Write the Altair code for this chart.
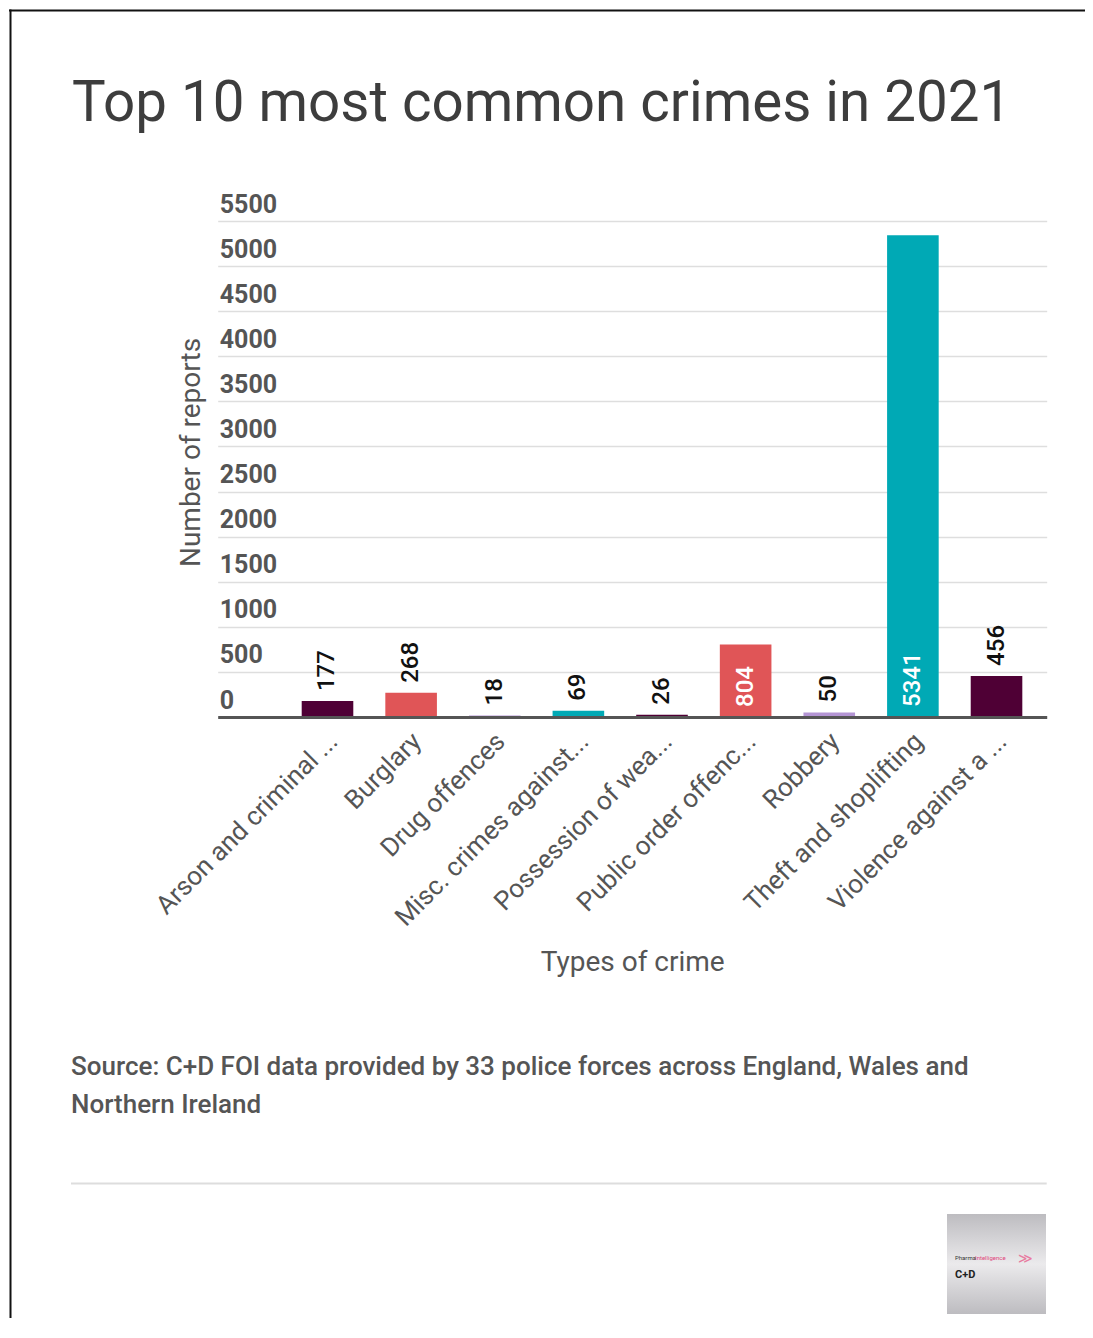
import altair as alt
import pandas as pd

# ---------------- data ----------------
crimes = [
    "Arson and criminal ...",
    "Burglary",
    "Drug offences",
    "Misc. crimes against...",
    "Possession of wea...",
    "Public order offenc...",
    "Robbery",
    "Theft and shoplifting",
    "Violence against a ...",
]
reports = [177, 268, 18, 69, 26, 804, 50, 5341, 456]
bar_colors = ["#4f0035", "#e05557", "#b495d4", "#00a9b5",
              "#4f0035", "#e05557", "#b495d4", "#00a9b5", "#4f0035"]
y_ticks = [0, 500, 1000, 1500, 2000, 2500, 3000, 3500, 4000, 4500, 5000, 5500]
title_text = "Top 10 most common crimes in 2021"
source_lines = ["Source: C+D FOI data provided by 33 police forces across England, Wales and",
                "Northern Ireland"]

df = pd.DataFrame({"crime": crimes, "reports": reports})

# ---------------- layout ----------------
W, H = 829, 496          # plot area
L0, T0 = 217.7, 221      # page position of plot origin
PAGE_M = 8


def px(x):
    return x - L0


def py(y):
    return y - T0


FONT = "Roboto"
GREY = "#555555"

x_enc = alt.X(
    "crime:N", sort=None,
    scale=alt.Scale(domain=crimes, paddingInner=0.383, paddingOuter=0.648, align=0.775),
    axis=alt.Axis(
        title="Types of crime", labelAngle=315, labelAlign="right", labelBaseline="middle",
        labelPadding=20, labelOffset=6, labelFont=FONT, labelFontSize=26, labelColor=GREY,
        labelLimit=500, ticks=False, tickSize=0, domainColor=GREY, domainWidth=3,
        titleFont=FONT, titleFontSize=28, titleFontWeight="normal", titleColor=GREY,
        titleX=W / 2, titleY=253, titleAlign="center", titleBaseline="alphabetic", zindex=1,
    ),
)
y_scale = alt.Scale(domain=[0, 5500], nice=False)
y_axis = alt.Axis(
    values=y_ticks, format="d", title="Number of reports", grid=True, gridColor="#dedede",
    gridWidth=1.5, domain=False, ticks=False, tickSize=0, labelAlign="left",
    labelBaseline="alphabetic", labelPadding=-1.5, labelOffset=-9, labelFont=FONT,
    labelFontSize=25, labelFontWeight="bold", labelColor=GREY, labelOverlap=False,
    titleAngle=270, titleX=-18, titleY=231, titleAlign="center", titleBaseline="alphabetic",
    titleFont=FONT, titleFontSize=28, titleFontWeight="normal", titleColor=GREY,
)

base = alt.Chart(df).encode(x=x_enc)

bars = base.mark_bar().encode(
    y=alt.Y("reports:Q", scale=y_scale, axis=y_axis),
    color=alt.Color("crime:N", scale=alt.Scale(domain=crimes, range=bar_colors), legend=None),
)

labels_above = base.transform_filter("datum.reports < 700").mark_text(
    angle=270, align="left", baseline="middle", yOffset=-10, font=FONT, fontSize=24,
    fontWeight=500, color="#111111",
).encode(y=alt.Y("reports:Q", scale=y_scale), text="reports:Q")

labels_inside = base.transform_filter("datum.reports >= 700").transform_calculate(
    zero="0"
).mark_text(
    angle=270, align="left", baseline="middle", yOffset=-10, font=FONT, fontSize=24,
    fontWeight=500, color="#ffffff",
).encode(y=alt.Y("zero:Q", scale=y_scale), text="reports:Q")

one = pd.DataFrame({"t": [title_text]})
title_layer = alt.Chart(one).mark_text(
    align="left", baseline="alphabetic", font=FONT, fontSize=56.5, color="#3d3d3d",
).encode(x=alt.value(px(72)), y=alt.value(py(121)), text="t:N")

src = pd.DataFrame({"t": ["\n".join(source_lines)]})
source_layer = alt.Chart(src).mark_text(
    align="left", baseline="alphabetic", font=FONT, fontSize=26, fontWeight=500,
    color=GREY, lineBreak="\n", lineHeight=38,
).encode(x=alt.value(px(71)), y=alt.value(py(1075)), text="t:N")

sep = alt.Chart(one).mark_rule(color="#dddddd", strokeWidth=2).encode(
    x=alt.value(px(71)), x2=alt.value(px(1046.7)), y=alt.value(py(1183.5)))

border_top = alt.Chart(one).mark_rule(color="#111111", strokeWidth=2).encode(
    x=alt.value(px(9)), x2=alt.value(px(1093)), y=alt.value(py(10.5)))
border_left = alt.Chart(one).mark_rule(color="#111111", strokeWidth=2).encode(
    x=alt.value(px(10.5)), y=alt.value(py(9.5)), y2=alt.value(py(1338)))

logo = alt.Chart(one).mark_rect(
    color=alt.Gradient(
        gradient="linear", x1=0, y1=0, x2=0, y2=1,
        stops=[alt.GradientStop(color="#bdbcc0", offset=0),
               alt.GradientStop(color="#ebeaec", offset=0.5),
               alt.GradientStop(color="#bdbcc0", offset=1)],
    )
).encode(x=alt.value(px(947)), x2=alt.value(px(1046)), y=alt.value(py(1214)), y2=alt.value(py(1314)))

logo_a = alt.Chart(pd.DataFrame({"t": ["Pharma"]})).mark_text(
    align="left", baseline="alphabetic", font=FONT, fontSize=6, color="#333333",
).encode(x=alt.value(px(955)), y=alt.value(py(1260)), text="t:N")
logo_b = alt.Chart(pd.DataFrame({"t": ["Intelligence"]})).mark_text(
    align="left", baseline="alphabetic", font=FONT, fontSize=6, color="#e0457b",
).encode(x=alt.value(px(975)), y=alt.value(py(1260)), text="t:N")
logo_d = alt.Chart(pd.DataFrame({"t": ["≫"]})).mark_text(
    align="left", baseline="alphabetic", font=FONT, fontSize=14, color="#e87aa0",
).encode(x=alt.value(px(1018)), y=alt.value(py(1263)), text="t:N")
logo_c = alt.Chart(pd.DataFrame({"t": ["C+D"]})).mark_text(
    align="left", baseline="alphabetic", font=FONT, fontSize=11, fontWeight="bold", color="#222222",
).encode(x=alt.value(px(955)), y=alt.value(py(1278)), text="t:N")

chart = alt.layer(
    bars, labels_above, labels_inside, title_layer, source_layer, sep,
    border_top, border_left, logo, logo_a, logo_b, logo_d, logo_c,
).properties(
    width=W, height=H,
    autosize=alt.AutoSizeParams(type="none"),
    padding={"left": L0 - PAGE_M, "top": T0 - PAGE_M,
             "right": 1077 - (L0 - PAGE_M) - W, "bottom": 1310 - (T0 - PAGE_M) - H},
    background="white",
).configure_view(stroke=None)

chart.save("out.html", embed_options={"renderer": "svg", "actions": False})
